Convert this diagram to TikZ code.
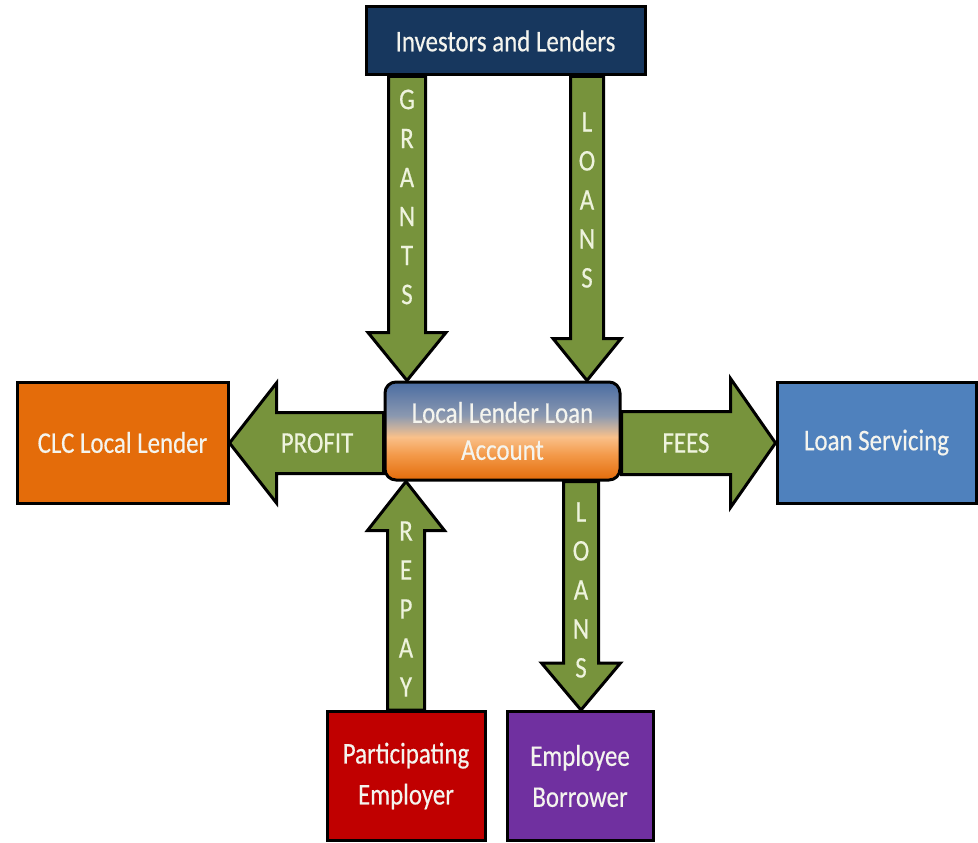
\documentclass[tikz,border=0pt]{standalone}
\usepackage{fontspec}
\setmainfont{Carlito}[FakeStretch=0.83,FakeBold=0.4]
\usetikzlibrary{calc,backgrounds}
\definecolor{navy}{HTML}{17375E}
\definecolor{clcor}{HTML}{E46C0A}
\definecolor{servbl}{HTML}{4F81BD}
\definecolor{partred}{HTML}{C00000}
\definecolor{emppur}{HTML}{7030A0}
\definecolor{arrgreen}{HTML}{77933C}
\definecolor{boxtext}{HTML}{F4F4EE}
\definecolor{arrtext}{HTML}{EEF3DD}
\definecolor{accO}{HTML}{E46C0A}
\definecolor{accO2}{HTML}{F39A4A}
\definecolor{accP}{HTML}{F9C08A}
\definecolor{accG}{HTML}{C4B0A0}
\definecolor{accG2}{HTML}{8A98B0}
\definecolor{accB}{HTML}{4A6CA2}
\pgfdeclareverticalshading{acctshade}{100bp}{color(0bp)=(accO); color(25bp)=(accO); color(38bp)=(accO2); color(47bp)=(accP); color(52bp)=(accG); color(58bp)=(accG2); color(75bp)=(accB); color(100bp)=(accB)}
\newcommand\blockarrow[5]{%
  \coordinate (ba-s) at (#1);
  \coordinate (ba-e) at (#2);
  \coordinate (ba-h) at ($(ba-e)!#5!(ba-s)$);
  \draw[blockarr] ($(ba-s)!#3!90:(ba-e)$) -- ($(ba-h)!#3!90:(ba-e)$) -- ($(ba-h)!#4!90:(ba-e)$) -- (ba-e) -- ($(ba-h)!#4!-90:(ba-e)$) -- ($(ba-h)!#3!-90:(ba-e)$) -- ($(ba-s)!#3!-90:(ba-e)$) -- cycle;}
\begin{document}
\begin{tikzpicture}[x=1pt,y=-1pt,
  box/.style={draw=black, line width=3pt, text=boxtext, align=center,
    font=\fontsize{30}{37}\selectfont, inner sep=0pt},
  tallbox/.style={box, font=\fontsize{30}{41}\selectfont},
  blockarr/.style={draw=black, line width=3pt, fill=arrgreen, line join=miter},
  vlabel/.style={text=arrtext, align=center, font=\fontsize{30}{39}\selectfont, inner sep=0pt},
  hlabel/.style={text=arrtext, font=\fontsize{30}{30}\selectfont, inner sep=0pt}]
\useasboundingbox (0,0) rectangle (978,843);
% boxes
\node[box, fill=navy, minimum width=279pt, minimum height=68pt] (inv) at (505.5,41) {Investors and Lenders};
\node[box, shading=acctshade, rounded corners=11pt, minimum width=235pt, minimum height=98pt] (acct) at (502.5,431) {Local Lender Loan\\Account};
\node[box, fill=clcor, minimum width=211pt, minimum height=121pt] (clc) at (122.5,442.5) {CLC Local Lender};
\node[box, fill=servbl, minimum width=199pt, minimum height=121pt] (serv) at (876.5,442.5) {Loan Servicing};
\node[tallbox, fill=partred, minimum width=158pt, minimum height=129pt] (part) at (406,776) {Participating\\Employer};
\node[tallbox, fill=emppur, minimum width=146pt, minimum height=129pt] (emp) at (580,776) {Employee\\Borrower};
% guide coordinates
\coordinate (gx) at (407,0);
\coordinate (lx) at (587,0);
\coordinate (rx) at (406,0);
\coordinate (bx) at (581,0);
\coordinate (my) at (0,443);
\begin{scope}[on background layer]
\blockarrow{inv.south -| gx}{acct.north -| gx}{18.5pt}{39pt}{48pt}
\blockarrow{inv.south -| lx}{acct.north -| lx}{16.5pt}{34pt}{42pt}
\blockarrow{acct.west |- my}{clc.east |- my}{30.5pt}{60pt}{47pt}
\blockarrow{acct.east |- my}{serv.west |- my}{31.5pt}{64.5pt}{45pt}
\blockarrow{part.north -| rx}{acct.south -| rx}{18.5pt}{38.5pt}{49pt}
\blockarrow{acct.south -| bx}{emp.north -| bx}{17.5pt}{39.5pt}{47pt}
\end{scope}
% labels
\node[vlabel] (lgrants) at (407,197) {G\\R\\A\\N\\T\\S};
\node[vlabel] (lloans1) at (587,200) {L\\O\\A\\N\\S};
\node[vlabel] (lrepay) at (406,609) {R\\E\\P\\A\\Y};
\node[vlabel] (lloans2) at (581,590) {L\\O\\A\\N\\S};
\node[hlabel] (lprofit) at (317,443) {PROFIT};
\node[hlabel] (lfees) at (686,443) {FEES};
\end{tikzpicture}
\end{document}
